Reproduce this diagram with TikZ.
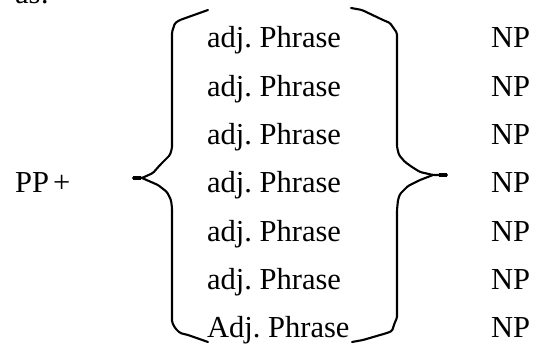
\documentclass[tikz,border=0pt]{standalone}
\usepackage{fontspec}
\setmainfont{Liberation Serif}
\begin{document}
\frenchspacing
\begin{tikzpicture}[x=1pt,y=-1pt,
  lbl/.style={inner sep=0pt,anchor=base west,font=\fontsize{30.5}{36}\selectfont},
  bracepath/.style={line width=2.1pt,line join=round,line cap=round,rounded corners=1.5pt}]
\useasboundingbox (0,0) rectangle (557,344);
\clip (0,0) rectangle (557,344);
\node[lbl] (as) at (15,4) {as:};
\node[lbl] (pp) at (15,192.9) {PP\kern4pt+};
\foreach \i/\t in {1/adj. Phrase,2/adj. Phrase,3/adj. Phrase,4/adj. Phrase,5/adj. Phrase,6/adj. Phrase,7/Adj. Phrase}{
  \node[lbl] (a\i) at (207,{48+(\i-1)*48.3}) {\t};
  \node[lbl] (np\i) at (491,{48+(\i-1)*48.3}) {NP};
}
% left brace
\draw[bracepath] (208,10) -- (180,20) -- (175,23) -- (172,32) -- (172,148) -- (170,155) -- (160,165) -- (153,173) -- (142,178) -- (133,178);
\draw[bracepath] (142,178) -- (158,185) -- (167,192) -- (171,200) -- (172,208) -- (172,322) -- (175,328) -- (180,333) -- (188,335) -- (208,342);
\draw[line width=3.2pt] (133,178) -- (141,178);
% right brace
\draw[bracepath] (351,8) -- (362,10) -- (383,20) -- (390,23) -- (397,33) -- (397,147) -- (399,155) -- (405,162) -- (412,167) -- (420,172) -- (433,175) -- (447,175);
\draw[bracepath] (433,175) -- (420,180) -- (408,186) -- (400,194) -- (398,200) -- (397,210) -- (397,318) -- (395,322) -- (392,331) -- (387,333) -- (363,340) -- (352,342);
\draw[line width=3.2pt] (439,175) -- (447,175);
\end{tikzpicture}
\end{document}
